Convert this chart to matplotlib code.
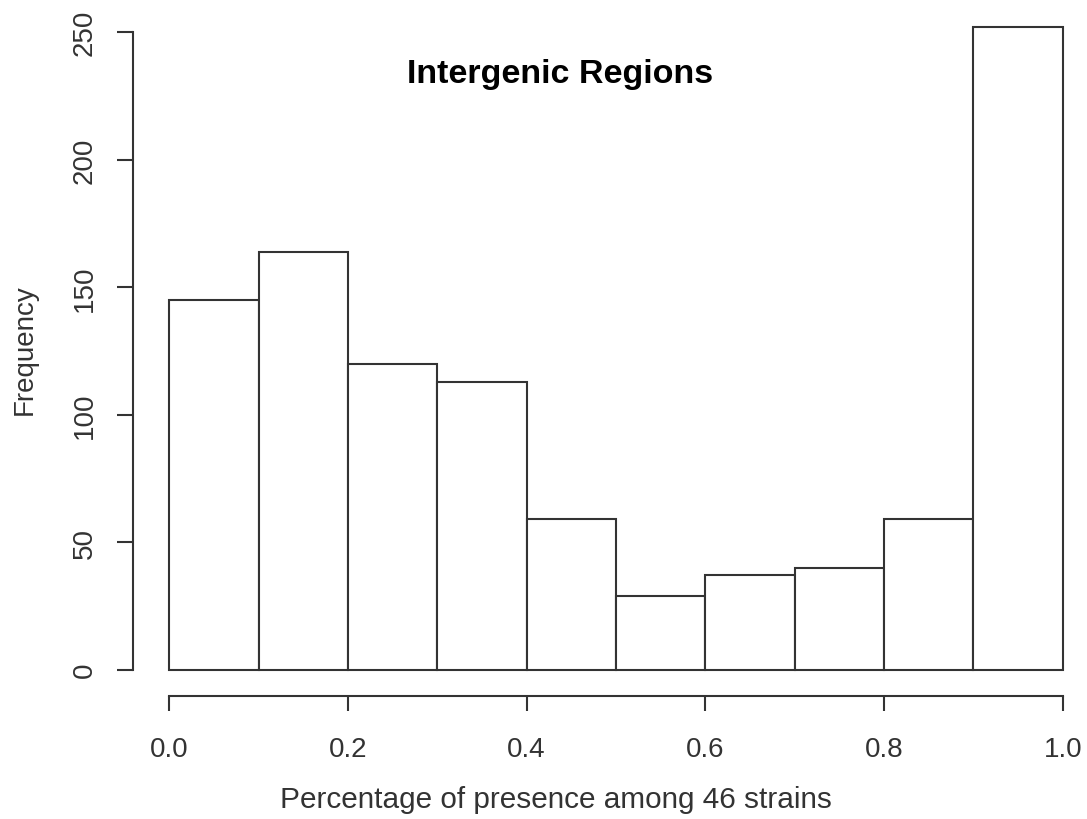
import matplotlib
matplotlib.use("Agg")
import matplotlib.pyplot as plt

bin_edges = [0.0, 0.1, 0.2, 0.3, 0.4, 0.5, 0.6, 0.7, 0.8, 0.9, 1.0]
counts = [145, 164, 120, 113, 59, 29, 37, 40, 59, 252]
x_ticks = [0.0, 0.2, 0.4, 0.6, 0.8, 1.0]
x_tick_labels = ["0.0", "0.2", "0.4", "0.6", "0.8", "1.0"]
y_ticks = [0, 50, 100, 150, 200, 250]
title = "Intergenic Regions"
xlabel = "Percentage of presence among 46 strains"
ylabel = "Frequency"

plt.rcParams['font.family'] = ['Liberation Sans', 'DejaVu Sans']
W, H = 1087, 820
fig = plt.figure(figsize=(W / 100, H / 100), dpi=100)
x0, x1 = 169.3, 1062.7
y0, y1 = 670.7, 33.3
ax = fig.add_axes([x0 / W, (H - y0) / H, (x1 - x0) / W, (y0 - y1) / H])

lc = '#333333'
widths = [bin_edges[i + 1] - bin_edges[i] for i in range(len(counts))]
ax.bar(bin_edges[:-1], counts, width=widths, align='edge', facecolor='white',
       edgecolor=lc, linewidth=1.5, clip_on=False)

ax.set_xlim(0, 1)
ax.set_ylim(0, 250)
for s in ['top', 'right']:
    ax.spines[s].set_visible(False)
ax.spines['left'].set_position(('outward', 26))
ax.spines['bottom'].set_position(('outward', 19))
ax.spines['left'].set_bounds(0, 250)
ax.spines['bottom'].set_bounds(0, 1)
for s in ['left', 'bottom']:
    ax.spines[s].set_color(lc)
    ax.spines[s].set_linewidth(1.5)

ax.set_xticks(x_ticks)
ax.set_xticklabels(x_tick_labels)
ax.set_yticks(y_ticks)
ax.set_yticklabels([str(v) for v in y_ticks], rotation=90, va='center')
ax.tick_params(axis='x', length=11, width=1.5, color=lc, pad=18, labelsize=20, labelcolor='#333333')
ax.tick_params(axis='y', length=11.5, width=1.5, color=lc, pad=14, labelsize=20, labelcolor='#333333')

fig.text(560 / W, 1 - 74 / H, title, ha='center', va='center', fontsize=24.5, fontweight='bold', color='black')
fig.text(556 / W, 1 - 800 / H, xlabel, ha='center', va='center', fontsize=21.4, color='#333333')
fig.text(25 / W, 1 - 350 / H, ylabel, ha='center', va='center', fontsize=20, rotation=90, color='#333333')

fig.savefig("out.png", dpi=100, facecolor='white')
